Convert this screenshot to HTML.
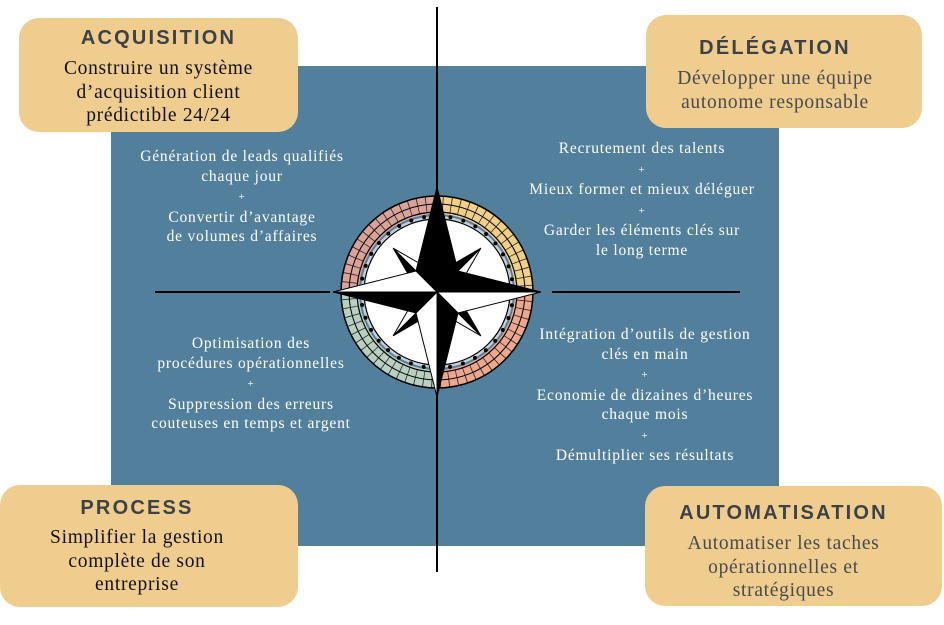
<!DOCTYPE html>
<html><head><meta charset="utf-8"><style>
body{margin:0;width:944px;height:625px;background:#fff;position:relative;overflow:hidden;font-family:"Liberation Serif",serif}
.bg{position:absolute;left:111px;top:66px;width:668px;height:480px;background:#527f9c}
.box{position:absolute;background:#efcd8e;border-radius:20px;text-align:center}
.t{font-family:"Liberation Sans",sans-serif;font-weight:bold;font-size:20px;letter-spacing:2.2px;color:#3d4148;position:absolute;left:0;right:0}
.b{position:absolute;left:0;right:0;font-size:19.5px;letter-spacing:0.7px;line-height:23.5px;color:#111;white-space:nowrap}
.g{color:#474a52}
.w{position:absolute;color:#fff;font-size:15.5px;letter-spacing:0.8px;line-height:19.5px;text-align:center;transform:translateX(-50%);white-space:nowrap}
.p{font-size:11px}
.ln{position:absolute;background:#000}
</style></head><body>
<div class="bg"></div>
<div class="ln" style="left:436px;top:7px;width:2px;height:565px"></div>
<div class="ln" style="left:155px;top:291px;width:175px;height:2px"></div>
<div class="ln" style="left:552px;top:291px;width:188px;height:2px"></div>

<div class="box" style="left:19px;top:18px;width:279px;height:114px">
<div class="t" style="top:9px">ACQUISITION</div>
<div class="b" style="top:39px">Construire un système<br>d’acquisition client<br>prédictible 24/24</div></div>
<div class="box" style="left:646px;top:15px;width:276px;height:113px">
<div class="t" style="top:22px;left:-18px">DÉLÉGATION</div>
<div class="b g" style="top:52px;left:-18px">Développer une équipe<br>autonome responsable</div></div>
<div class="box" style="left:0px;top:485px;width:298px;height:122px">
<div class="t" style="top:12px;left:-24px">PROCESS</div>
<div class="b" style="top:41px;left:-24px">Simplifier la gestion<br>complète de son<br>entreprise</div></div>
<div class="box" style="left:645px;top:486px;width:297px;height:120px">
<div class="t" style="top:16px;left:-20px">AUTOMATISATION</div>
<div class="b g" style="top:46px;left:-20px">Automatiser les taches<br>opérationnelles et<br>stratégiques</div></div>

<div class="w" style="left:242px;top:147px">Génération de leads qualifiés<br>chaque jour<br><span class="p">+</span><br>Convertir d’avantage<br>de volumes d’affaires</div>
<div class="w" style="left:642px;top:139px">Recrutement des talents<br><span class="p">+</span><br>Mieux former et mieux déléguer<br><span class="p">+</span><br>Garder les éléments clés sur<br>le long terme</div>
<div class="w" style="left:251px;top:334px">Optimisation des<br>procédures opérationnelles<br><span class="p">+</span><br>Suppression des erreurs<br>couteuses en temps et argent</div>
<div class="w" style="left:645px;top:325px">Intégration d’outils de gestion<br>clés en main<br><span class="p">+</span><br>Economie de dizaines d’heures<br>chaque mois<br><span class="p">+</span><br>Démultiplier ses résultats</div>

<svg style="position:absolute;left:0;top:0" width="944" height="625">
<g transform="translate(437,292)">
<path d="M0,0 L0,-96 A96,96 0 0 0 -96,0 Z" fill="#d9a39a"/>
<path d="M0,0 L0,-96 A96,96 0 0 1 96,0 Z" fill="#f0cf88"/>
<path d="M0,0 L96,0 A96,96 0 0 1 0,96 Z" fill="#eba88e"/>
<path d="M0,0 L0,96 A96,96 0 0 1 -96,0 Z" fill="#b9cfc0"/>
<circle r="88" fill="none" stroke="#000" stroke-width="16" stroke-dasharray="0.8 7.6" opacity="0.8"/>
<circle r="96" fill="none" stroke="#000" stroke-width="1.5"/>
<circle r="88" fill="none" stroke="#000" stroke-width="1"/>
<circle r="80" fill="none" stroke="#000" stroke-width="1.2"/>
<circle r="78" fill="#527f9c" stroke="none"/>
<circle r="76" fill="#c8cfd4"/>
<circle r="73" fill="#fff" stroke="#000" stroke-width="1.2"/>
<circle r="76" fill="none" stroke="#000" stroke-width="4" stroke-linecap="round" stroke-dasharray="0 13.27"/>
<g stroke="#000" stroke-width="1">
<g transform="rotate(45)">
<polygon points="0,0 0,-62 -13,-13" fill="#000"/><polygon points="0,0 0,-62 13,-13" fill="#fff"/>
<polygon points="0,0 62,0 13,-13" fill="#000"/><polygon points="0,0 62,0 13,13" fill="#fff"/>
<polygon points="0,0 0,62 13,13" fill="#000"/><polygon points="0,0 0,62 -13,13" fill="#fff"/>
<polygon points="0,0 -62,0 -13,13" fill="#000"/><polygon points="0,0 -62,0 -13,-13" fill="#fff"/>
</g>
<polygon points="0,0 0,-105 -21,-21" fill="#000"/><polygon points="0,0 0,-105 21,-21" fill="#000"/>
<polygon points="0,0 104,0 21,-21" fill="#000"/><polygon points="0,0 104,0 21,21" fill="#fff"/>
<polygon points="0,0 0,105 21,21" fill="#000"/><polygon points="0,0 0,105 -21,21" fill="#fff"/>
<polygon points="0,0 -104,0 -21,21" fill="#000"/><polygon points="0,0 -104,0 -21,-21" fill="#fff"/>
</g>
</g></svg>
</body></html>
